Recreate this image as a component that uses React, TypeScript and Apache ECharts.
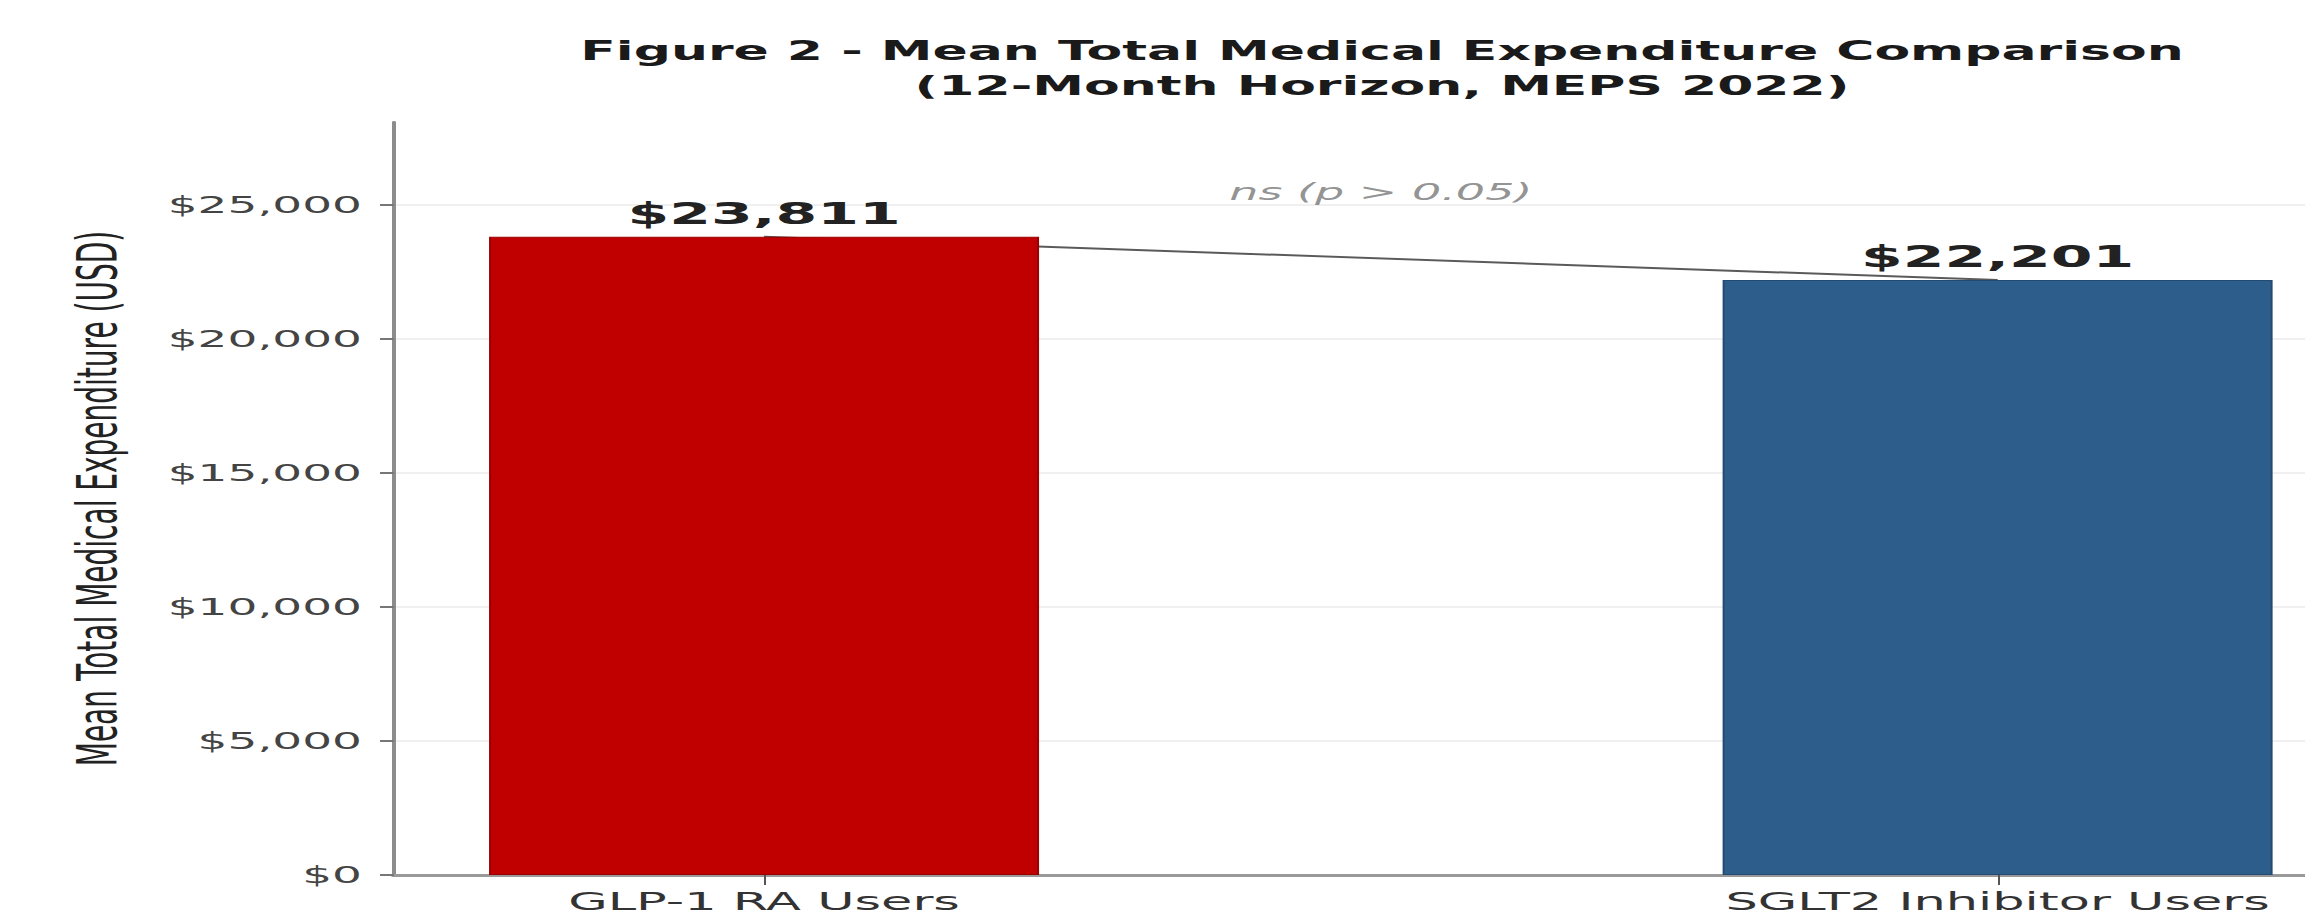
import React, { useEffect, useRef } from "react";
import * as echarts from "echarts";

// ---- data ----
const categories = ["GLP-1 RA Users", "SGLT2 Inhibitor Users"];
const meanCosts = [23811, 22201];
const barColors = ["#C00000", "#2D5D8B"];
const barEdgeColors = ["#9A0000", "#234B72"];
const yTickValues = [0, 5000, 10000, 15000, 20000, 25000];
const significanceText = "ns (p > 0.05)";
const titleLines = [
  "Figure 2 - Mean Total Medical Expenditure Comparison",
  "(12-Month Horizon, MEPS 2022)",
];
const yAxisTitle = "Mean Total Medical Expenditure (USD)";

// The reference is horizontally stretched; render narrower and stretch.
const FULL_W = 2305;
const FULL_H = 918;
const STRETCH = 2;
const W0 = FULL_W / STRETCH;

const FONT = "DejaVu Sans";
const money = (v: number) => "$" + Math.round(v).toLocaleString("en-US");

export default function App() {
  const ref = useRef<HTMLDivElement>(null);

  useEffect(() => {
    if (!ref.current) return;
    const chart = echarts.init(ref.current, null, { renderer: "svg" });
    const maxVal = Math.max(...meanCosts);
    const yMax = maxVal * 1.18;
    const xIdx = categories.map((_, i) => i);

    chart.setOption({
      animation: false,
      backgroundColor: "#ffffff",
      graphic: [
        {
          type: "text",
          x: 691,
          y: 34,
          style: {
            text: titleLines.join("\n"),
            textAlign: "center",
            textVerticalAlign: "top",
            fontFamily: FONT,
            fontSize: 26,
            fontWeight: "bold",
            lineHeight: 35,
            fill: "#1a1a1a",
          },
        },
      ],
      grid: { left: 197, right: 0, top: 122, bottom: 43, containLabel: false },
      xAxis: {
        type: "value",
        min: -0.3,
        max: 1.25,
        axisLine: { show: true, onZero: false, lineStyle: { color: "#999999", width: 3 } },
        axisTick: {
          show: true,
          customValues: xIdx,
          length: 10,
          lineStyle: { color: "#555555", width: 1 },
        },
        axisLabel: {
          show: true,
          customValues: xIdx,
          formatter: (v: number) => categories[Math.round(v)] ?? "",
          margin: 13,
          fontFamily: FONT,
          fontSize: 25.5,
          color: "#333333",
        },
        splitLine: { show: false },
      },
      yAxis: {
        type: "value",
        min: 0,
        max: yMax,
        name: yAxisTitle,
        nameLocation: "middle",
        nameRotate: 90,
        nameGap: 135,
        nameTextStyle: { fontFamily: FONT, fontSize: 28, color: "#222222" },
        axisLine: { show: true, onZero: false, lineStyle: { color: "#8c8c8c", width: 2 } },
        axisTick: {
          show: true,
          customValues: yTickValues,
          length: 7,
          lineStyle: { color: "#777777", width: 2 },
        },
        axisLabel: {
          customValues: yTickValues,
          formatter: (v: number) => money(v),
          margin: 16,
          fontFamily: FONT,
          fontSize: 23.5,
          color: "#444444",
        },
        splitLine: { show: false },
      },
      series: [
        {
          type: "line",
          data: meanCosts.map((v, i) => [i, v]),
          symbol: "none",
          lineStyle: { color: "#5a5a5a", width: 2 },
          z: 1,
          silent: true,
          markLine: {
            silent: true,
            z: 0,
            symbol: "none",
            label: { show: false },
            lineStyle: { color: "#ebebeb", width: 1.5, type: "solid" },
            data: yTickValues.filter((v) => v > 0).map((v) => ({ yAxis: v })),
          },
        },
        {
          type: "bar",
          barWidth: 275,
          z: 2,
          data: meanCosts.map((v, i) => ({
            value: [i, v],
            itemStyle: {
              color: barColors[i],
              borderColor: barEdgeColors[i],
              borderWidth: 1,
            },
          })),
          label: {
            show: true,
            position: "top",
            distance: 8,
            formatter: (p: any) => money(p.value[1]),
            fontFamily: FONT,
            fontSize: 30,
            fontWeight: "bold",
            color: "#222222",
          },
        },
        {
          type: "scatter",
          data: [[0.5, maxVal * 1.07]],
          symbolSize: 1,
          itemStyle: { color: "rgba(0,0,0,0)" },
          z: 3,
          silent: true,
          label: {
            show: true,
            position: "inside",
            formatter: significanceText,
            fontFamily: FONT,
            fontStyle: "italic",
            fontSize: 23,
            color: "#777777",
          },
        },
      ],
    });

    return () => chart.dispose();
  }, []);

  return (
    <div
      style={{
        position: "fixed",
        left: 0,
        top: 0,
        width: FULL_W,
        height: FULL_H,
        overflow: "hidden",
        background: "#ffffff",
      }}
    >
      <div
        ref={ref}
        style={{
          width: W0,
          height: FULL_H,
          transform: `scaleX(${STRETCH})`,
          transformOrigin: "0 0",
        }}
      />
    </div>
  );
}
